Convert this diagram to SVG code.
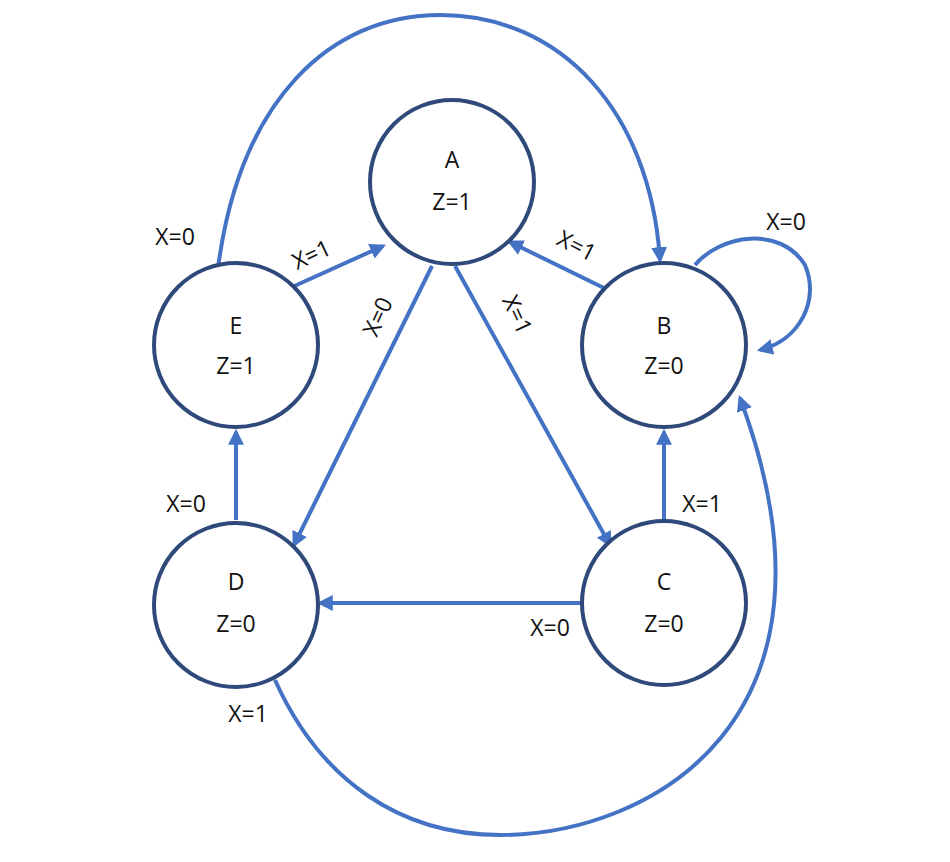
<svg xmlns="http://www.w3.org/2000/svg" width="950" height="862" viewBox="0 0 950 862">
<style>
.n{fill:#fff;stroke:#2F4A7A;stroke-width:4}
.e{fill:none;stroke:#4472C4;stroke-width:4;marker-end:url(#ar)}
text{font-family:"Open Sans","Liberation Sans",sans-serif;font-size:23px;fill:#111;text-anchor:middle}
</style>
<defs><marker id="ar" viewBox="0 0 10 10" refX="8" refY="5" markerWidth="4" markerHeight="4" orient="auto" markerUnits="strokeWidth"><path d="M0,0L10,5L0,10z" fill="#4472C4"/></marker></defs>
<rect width="950" height="862" fill="#fff"/>
<g id="connectors">
<path class="e" d="M290,288L383,246"/>
<path class="e" d="M608,290L510,242"/>
<path class="e" d="M432,266L294,545"/>
<path class="e" d="M455,266L610,545"/>
<path class="e" d="M664,520L664,432"/>
<path class="e" d="M582,603L320,603"/>
<path class="e" d="M236,520L236,432"/>
<path class="e" d="M218,268C240,100 330,15 440,15C560,15 650,110 660,260"/>
<path class="e" d="M275,680C320,780 400,835 500,835C650,835 860,720 740,398"/>
<path class="e" d="M695,265C720,235 780,225 805,265C820,300 800,340 760,350"/>
<text x="315" y="262" transform="rotate(-25 315 262)">X=1</text>
<text x="573" y="253" transform="rotate(27 573 253)">X=1</text>
<text x="385" y="320" transform="rotate(-65 385 320)">X=0</text>
<text x="510" y="318" transform="rotate(65 510 318)">X=1</text>
<text x="702" y="512">X=1</text>
<text x="550" y="636">X=0</text>
<text x="186" y="512">X=0</text>
<text x="175" y="245">X=0</text>
<text x="248" y="722">X=1</text>
<text x="786" y="230">X=0</text>
</g>
<g id="A"><circle class="n" cx="452" cy="182" r="82"/><text x="452" y="168">A</text><text x="452" y="210">Z=1</text></g>
<g id="B"><circle class="n" cx="664" cy="345" r="82"/><text x="664" y="334">B</text><text x="664" y="374">Z=0</text></g>
<g id="C"><circle class="n" cx="664" cy="603" r="82"/><text x="664" y="590">C</text><text x="664" y="632">Z=0</text></g>
<g id="D"><circle class="n" cx="236" cy="605" r="82"/><text x="236" y="590">D</text><text x="236" y="632">Z=0</text></g>
<g id="E"><circle class="n" cx="236" cy="345" r="82"/><text x="236" y="334">E</text><text x="236" y="374">Z=1</text></g>
</svg>
